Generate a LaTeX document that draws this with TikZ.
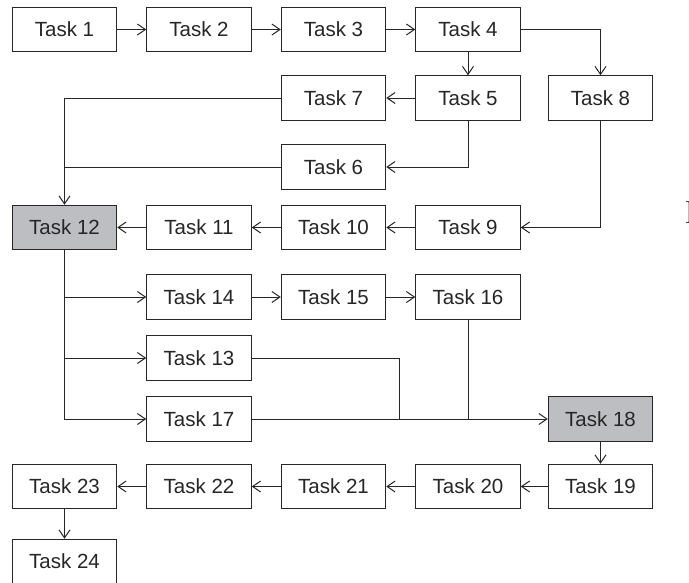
\documentclass[tikz,border=0pt]{standalone}
\usepackage{fontspec}
\setmainfont{Liberation Sans}
\newfontfamily\serifI{Latin Modern Roman}
\usetikzlibrary{arrows.meta}
\definecolor{inkc}{HTML}{262626}
\definecolor{shade}{HTML}{BDBEC1}
\tikzset{
  taskbox/.style={draw=inkc, line width=1pt, fill=white, minimum width=104.5pt, minimum height=44.5pt,
    inner sep=0pt, text=inkc, font=\fontsize{20.5}{24}\selectfont},
  hot/.style={taskbox, fill=shade},
  conn/.style={draw=inkc, line width=1pt},
  arr/.style={conn, -{Straight Barb[length=8pt,width=11pt,line width=1pt]}}
}
\begin{document}
\begin{tikzpicture}[x=1pt,y=-1pt]
\useasboundingbox (0,0) rectangle (689,582);
\clip (0,0) rectangle (689,582);
\fill[white] (0,0) rectangle (689,582);
% columns: 64.5, 199, 333.5, 468, 600.5
% rows: 29.5, 98, 167, 227.5, 297, 358, 419, 486.5, 561.5
\node[taskbox] (t1) at (64.5,29.5) {Task 1};
\node[taskbox] (t2) at (199,29.5) {Task 2};
\node[taskbox] (t3) at (333.5,29.5) {Task 3};
\node[taskbox] (t4) at (468,29.5) {Task 4};
\node[taskbox] (t7) at (333.5,98) {Task 7};
\node[taskbox] (t5) at (468,98) {Task 5};
\node[taskbox] (t8) at (600.5,98) {Task 8};
\node[taskbox] (t6) at (333.5,167) {Task 6};
\node[hot] (t12) at (64.5,227.5) {Task 12};
\node[taskbox] (t11) at (199,227.5) {Task 11};
\node[taskbox] (t10) at (333.5,227.5) {Task 10};
\node[taskbox] (t9) at (468,227.5) {Task 9};
\node[taskbox] (t14) at (199,297) {Task 14};
\node[taskbox] (t15) at (333.5,297) {Task 15};
\node[taskbox] (t16) at (468,297) {Task 16};
\node[taskbox] (t13) at (199,358) {Task 13};
\node[taskbox] (t17) at (199,419) {Task 17};
\node[hot] (t18) at (600.5,419) {Task 18};
\node[taskbox] (t23) at (64.5,486.5) {Task 23};
\node[taskbox] (t22) at (199,486.5) {Task 22};
\node[taskbox] (t21) at (333.5,486.5) {Task 21};
\node[taskbox] (t20) at (468,486.5) {Task 20};
\node[taskbox] (t19) at (600.5,486.5) {Task 19};
\node[taskbox] (t24) at (64.5,561.5) {Task 24};
\node[anchor=west, inner sep=0pt, text=inkc, font=\serifI\fontsize{32}{34}\selectfont] (stray) at (684.5,213) {I};
\coordinate (j13) at (399,419);
% connectors
\draw[arr] (t1) -- (t2);
\draw[arr] (t2) -- (t3);
\draw[arr] (t3) -- (t4);
\draw[arr] (t4.east) -| (t8.north);
\draw[arr] (t4) -- (t5);
\draw[arr] (t5) -- (t7);
\draw[arr] (t5.south) |- (t6.east);
\draw[arr] (t7.west) -| (t12.north);
\draw[conn] (t6.west) -- (t6.west -| t12.north);
\draw[arr] (t8.south) |- (t9.east);
\draw[arr] (t9) -- (t10);
\draw[arr] (t10) -- (t11);
\draw[arr] (t11) -- (t12);
\draw[arr] (t12.south) |- (t17.west);
\draw[arr] (t12.south |- t14.west) -- (t14.west);
\draw[arr] (t12.south |- t13.west) -- (t13.west);
\draw[arr] (t14) -- (t15);
\draw[arr] (t15) -- (t16);
\draw[conn] (t13.east) -| (j13);
\draw[conn] (t16.south) -- (t16.south |- t18.west);
\draw[arr] (t17) -- (t18);
\draw[arr] (t18) -- (t19);
\draw[arr] (t19) -- (t20);
\draw[arr] (t20) -- (t21);
\draw[arr] (t21) -- (t22);
\draw[arr] (t22) -- (t23);
\draw[arr] (t23) -- (t24);
\end{tikzpicture}
\end{document}
